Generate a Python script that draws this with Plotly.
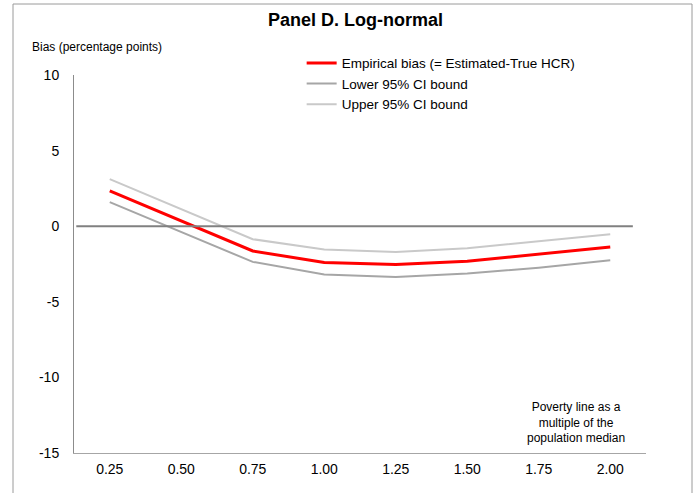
import plotly.graph_objects as go

categories = ["0.25", "0.50", "0.75", "1.00", "1.25", "1.50", "1.75", "2.00"]
empirical_bias = [2.34, 0.35, -1.64, -2.40, -2.54, -2.32, -1.85, -1.37]
lower_ci = [1.59, -0.40, -2.36, -3.20, -3.36, -3.13, -2.74, -2.25]
upper_ci = [3.11, 1.11, -0.86, -1.54, -1.70, -1.46, -0.99, -0.53]
y_ticks = [-15, -10, -5, 0, 5, 10]
y_tick_labels = ["-15", "-10", "-5", "0", "5", "10"]

FONT = "Liberation Sans, Arial, sans-serif"

fig = go.Figure()
fig.add_trace(go.Scatter(x=categories, y=empirical_bias, mode="lines",
                         name="Empirical bias (= Estimated-True HCR)",
                         line=dict(color="#ff0000", width=3)))
fig.add_trace(go.Scatter(x=categories, y=lower_ci, mode="lines",
                         name="Lower 95% CI bound",
                         line=dict(color="#a6a6a6", width=2)))
fig.add_trace(go.Scatter(x=categories, y=upper_ci, mode="lines",
                         name="Upper 95% CI bound",
                         line=dict(color="#c9c9c9", width=2)))

fig.update_layout(
    width=698, height=493,
    margin=dict(l=74, r=52, t=75, b=40),
    paper_bgcolor="white", plot_bgcolor="white",
    font=dict(family=FONT, color="#000000", size=14),
    title=dict(text="<b>Panel D. Log-normal</b>", x=355.5 / 698, xanchor="center",
               y=1 - 20 / 493, yanchor="middle", font=dict(size=18, family=FONT)),
    showlegend=True,
    legend=dict(x=0.398, y=1.072, xanchor="left", yanchor="top",
                bgcolor="rgba(0,0,0,0)", font=dict(size=13.5, family=FONT),
                itemwidth=30, tracegroupgap=0),
    xaxis=dict(type="category", range=[-0.5, 7.5], showline=True,
               linecolor="#a6a6a6", linewidth=1, ticks="", showgrid=False,
               zeroline=False, tickfont=dict(size=14), ticklabelstandoff=3),
    yaxis=dict(range=[-15, 10], tickvals=y_ticks, ticktext=y_tick_labels, showline=True,
               linecolor="#8c8c8c", linewidth=1, ticks="", showgrid=False,
               zeroline=False, tickfont=dict(size=14), ticklabelstandoff=11),
    shapes=[
        dict(type="rect", xref="paper", yref="paper",
             x0=(13 - 74) / 572, x1=(692 - 74) / 572,
             y0=-0.25, y1=(453 - 4) / 378,
             line=dict(color="#9a9a9a", width=1), layer="below"),
        dict(type="line", xref="paper", yref="y",
             x0=0.004, x1=0.977, y0=0, y1=0,
             line=dict(color="#808080", width=2)),
    ],
    annotations=[
        dict(text="Bias (percentage points)", xref="paper", yref="paper",
             x=(30 - 74) / 572, y=(453 - 47) / 378, xanchor="left", yanchor="middle",
             showarrow=False, font=dict(size=12, family=FONT)),
        dict(text="Poverty line as a<br>multiple of the<br>population median",
             xref="paper", yref="paper",
             x=(576 - 74) / 572, y=(453 - 422) / 378, xanchor="center", yanchor="middle",
             showarrow=False, font=dict(size=12, family=FONT)),
    ],
)

fig.write_html("out.html", config={"displayModeBar": False},
               post_script="document.body.style.margin='0';")
